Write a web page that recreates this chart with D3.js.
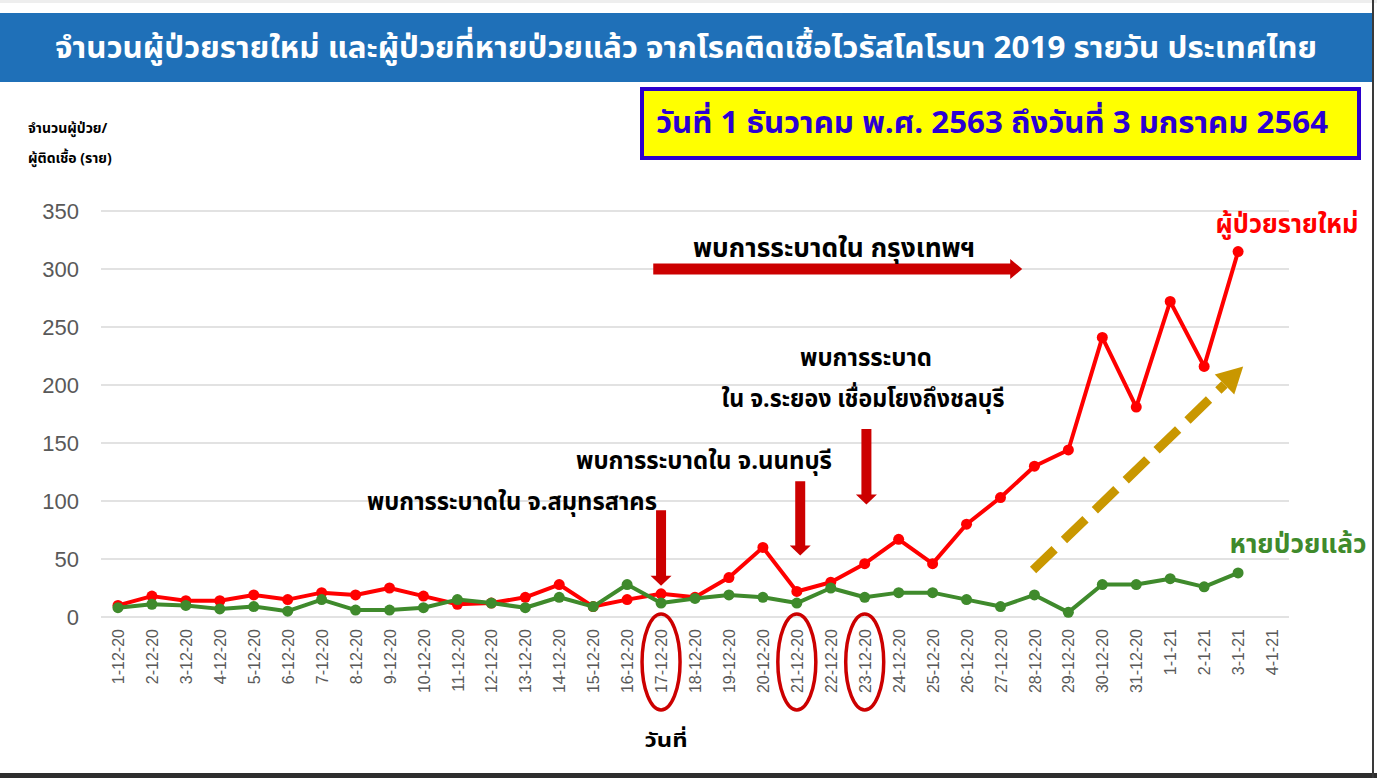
<!DOCTYPE html>
<html>
<head>
<meta charset="utf-8">
<script src="https://cdn.jsdelivr.net/npm/d3@7"></script>
<style>
  html, body { margin: 0; padding: 0; background: #fff; }
  svg { display: block; }
</style>
</head>
<body>
<svg id="chart" width="1377" height="778"></svg>
<script>

// DATA

var dates = [
	"1-12-20", "2-12-20", "3-12-20", "4-12-20", "5-12-20", "6-12-20", "7-12-20",
	"8-12-20", "9-12-20", "10-12-20", "11-12-20", "12-12-20", "13-12-20", "14-12-20",
	"15-12-20", "16-12-20", "17-12-20", "18-12-20", "19-12-20", "20-12-20", "21-12-20",
	"22-12-20", "23-12-20", "24-12-20", "25-12-20", "26-12-20", "27-12-20", "28-12-20",
	"29-12-20", "30-12-20", "31-12-20", "1-1-21", "2-1-21", "3-1-21", "4-1-21"
];

// ผู้ป่วยรายใหม่ (new cases)
var newCases = [10, 18, 14, 14, 19, 15, 21, 19, 25, 18, 11, 12, 17, 28, 9, 15, 20, 17,
	34, 60, 22, 30, 46, 67, 46, 80, 103, 130, 144, 241, 181, 272, 216, 315];

// หายป่วยแล้ว (recovered)
var recovered = [8, 11, 10, 7, 9, 5, 15, 6, 6, 8, 15, 12, 8, 17, 9, 28, 12, 16,
	19, 17, 12, 25, 17, 21, 21, 15, 9, 19, 4, 28, 28, 33, 26, 38];

var yTicks = [0, 50, 100, 150, 200, 250, 300, 350];

var circledDates = ["17-12-20", "21-12-20", "23-12-20"];

var title = "จำนวนผู้ป่วยรายใหม่ และผู้ป่วยที่หายป่วยแล้ว จากโรคติดเชื้อไวรัสโคโรนา 2019 รายวัน ประเทศไทย";
var subtitle = "วันที่ 1 ธันวาคม พ.ศ. 2563 ถึงวันที่ 3 มกราคม 2564";

var thaiFont = "'Noto Sans Thai', 'Noto Sans', 'DejaVu Sans', sans-serif";

//LAYOUT

var svg = d3.select("#chart");
var W = 1377, H = 778;

var plot = { left: 101, right: 1289, top: 211, bottom: 617 };

var xScale = d3.scalePoint()
	.domain(dates)
	.range([plot.left, plot.right])
	.padding(0.5);

var yScale = d3.scaleLinear()
	.domain([0, 350])
	.range([plot.bottom, plot.top]);

// fractional index along the date axis, used for annotations
function xAt(i) {
	return xScale(dates[0]) + i * xScale.step();
}

//FRAME

svg.append("rect").attr("x", 0).attr("y", 0).attr("width", W).attr("height", H).attr("fill", "#fff");
svg.append("rect").attr("x", 0).attr("y", 0).attr("width", W).attr("height", 3).attr("fill", "#eeeeee");
svg.append("rect").attr("x", 0).attr("y", 773).attr("width", W).attr("height", 5).attr("fill", "#2e2e2e");
svg.append("rect").attr("x", 1372).attr("y", 0).attr("width", 2).attr("height", H).attr("fill", "#3a3a3a");

// title bar
svg.append("rect")
	.attr("x", 0).attr("y", 13)
	.attr("width", 1372).attr("height", 69)
	.attr("fill", "#1f70b8");

svg.append("text")
	.attr("x", 686).attr("y", 58)
	.attr("text-anchor", "middle")
	.attr("fill", "#fff")
	.attr("font-family", thaiFont)
	.attr("font-weight", "bold")
	.attr("font-size", 30)
	.attr("textLength", 1262)
	.attr("lengthAdjust", "spacingAndGlyphs")
	.text(title);

// date range box
svg.append("rect")
	.attr("x", 642).attr("y", 89)
	.attr("width", 717).attr("height", 69)
	.attr("fill", "#ffff00")
	.attr("stroke", "#2b00cc")
	.attr("stroke-width", 4);

svg.append("text")
	.attr("x", 992).attr("y", 133)
	.attr("text-anchor", "middle")
	.attr("fill", "#2b00d4")
	.attr("font-family", thaiFont)
	.attr("font-weight", "bold")
	.attr("font-size", 30)
	.attr("textLength", 672)
	.attr("lengthAdjust", "spacingAndGlyphs")
	.text(subtitle);

// y axis title
var yTitle = svg.append("text")
	.attr("font-family", thaiFont)
	.attr("font-weight", "bold")
	.attr("font-size", 14)
	.attr("fill", "#000");
yTitle.append("tspan").attr("x", 28).attr("y", 133).text("จำนวนผู้ป่วย/");
yTitle.append("tspan").attr("x", 28).attr("y", 163).text("ผู้ติดเชื้อ (ราย)");

//AXES

var g = svg.append("g");

g.append("g")
	.attr("class", "grid")
	.selectAll("line")
	.data(yTicks)
	.enter()
	.append("line")
	.attr("x1", plot.left).attr("x2", plot.right)
	.attr("y1", d => yScale(d)).attr("y2", d => yScale(d))
	.attr("stroke", "#d9d9d9")
	.attr("stroke-width", 1.5);

var yAxis = d3.axisLeft()
	.scale(yScale)
	.tickValues(yTicks)
	.tickSize(0)
	.tickPadding(22);

g.append("g")
	.attr("class", "yAxis")
	.attr("transform", "translate(" + plot.left + ",0)")
	.call(yAxis)
	.call(a => a.select(".domain").remove())
	.selectAll("text")
	.attr("font-family", "'Liberation Sans', Arial, sans-serif")
	.attr("font-size", 22)
	.attr("fill", "#595959");

var xAxis = d3.axisBottom()
	.scale(xScale)
	.tickSize(0)
	.tickPadding(0);

g.append("g")
	.attr("class", "xAxis")
	.attr("transform", "translate(0," + plot.bottom + ")")
	.call(xAxis)
	.call(a => a.select(".domain").remove())
	.selectAll("text")
	.attr("font-family", "'Liberation Sans', Arial, sans-serif")
	.attr("font-size", 16)
	.attr("fill", "#595959")
	.attr("text-anchor", "end")
	.attr("dy", "0.35em")
	.attr("transform", "translate(0,12) rotate(-90)");

svg.append("text")
	.attr("x", 666).attr("y", 747)
	.attr("text-anchor", "middle")
	.attr("font-family", thaiFont)
	.attr("font-weight", "bold")
	.attr("font-size", 20)
	.attr("textLength", 43)
	.attr("lengthAdjust", "spacingAndGlyphs")
	.text("วันที่");

//CIRCLED DATES

svg.selectAll("ellipse.mark")
	.data(circledDates)
	.enter()
	.append("ellipse")
	.attr("class", "mark")
	.attr("cx", d => xScale(d))
	.attr("cy", 662)
	.attr("rx", 19)
	.attr("ry", 48)
	.attr("fill", "none")
	.attr("stroke", "#cc0000")
	.attr("stroke-width", 3.5);

//LINES

var line = d3.line()
	.x((d, i) => xScale(dates[i]))
	.y(d => yScale(d));

function drawSeries(values, color) {
	var s = svg.append("g");
	s.append("path")
		.datum(values)
		.attr("d", line)
		.attr("fill", "none")
		.attr("stroke", color)
		.attr("stroke-width", 4)
		.attr("stroke-linejoin", "round");
	s.selectAll("circle")
		.data(values)
		.enter()
		.append("circle")
		.attr("cx", (d, i) => xScale(dates[i]))
		.attr("cy", d => yScale(d))
		.attr("r", 5.5)
		.attr("fill", color);
}

drawSeries(newCases, "#ff0000");
drawSeries(recovered, "#3f8a2c");

//ANNOTATIONS

// horizontal arrow, Bangkok
function hArrow(x1, x2, y, color) {
	var t = 11, hw = 20, hl = 12;
	var p = [[x1, y - t / 2], [x2 - hl, y - t / 2], [x2 - hl, y - hw / 2], [x2, y],
		[x2 - hl, y + hw / 2], [x2 - hl, y + t / 2], [x1, y + t / 2]];
	svg.append("path").attr("d", d3.line()(p) + "Z").attr("fill", color);
}

// down arrow
function vArrow(x, y1, y2, color) {
	var t = 10, hw = 21, hl = 10;
	var p = [[x - t / 2, y1], [x + t / 2, y1], [x + t / 2, y2 - hl], [x + hw / 2, y2 - hl], [x, y2],
		[x - hw / 2, y2 - hl], [x - t / 2, y2 - hl]];
	svg.append("path").attr("d", d3.line()(p) + "Z").attr("fill", color);
}

hArrow(xAt(15.77), xAt(26.64), yScale(300), "#cc0000");
vArrow(xAt(16), yScale(92), yScale(27), "#cc0000");
vArrow(xAt(20.1), yScale(117), yScale(53), "#cc0000");
vArrow(xAt(22.05), yScale(162), yScale(97), "#cc0000");

function anno(x, y, txt, size, len, color) {
	svg.append("text")
		.attr("x", x).attr("y", y)
		.attr("text-anchor", "middle")
		.attr("font-family", thaiFont)
		.attr("font-weight", "bold")
		.attr("font-size", size)
		.attr("fill", color || "#000")
		.attr("textLength", len)
		.attr("lengthAdjust", "spacingAndGlyphs")
		.text(txt);
}

anno(834, 257, "พบการระบาดใน กรุงเทพฯ", 26, 282);
anno(866, 366, "พบการระบาด", 24, 132);
anno(863, 407, "ใน จ.ระยอง เชื่อมโยงถึงชลบุรี", 24, 283);
anno(704, 469, "พบการระบาดใน จ.นนทบุรี", 24, 256);
anno(512, 510, "พบการระบาดใน จ.สมุทรสาคร", 24, 290);

anno(1287, 233, "ผู้ป่วยรายใหม่", 26, 143, "#ff0000");
anno(1298, 553, "หายป่วยแล้ว", 26, 137, "#3f8a2c");

// dashed trend arrow
var gx1 = xAt(26.96), gy1 = yScale(40.5), gx2 = xAt(33.15), gy2 = yScale(216);
var ang = Math.atan2(gy2 - gy1, gx2 - gx1);
var headL = 26, headW = 28;
var bx = gx2 - headL * Math.cos(ang), by = gy2 - headL * Math.sin(ang);

svg.append("line")
	.attr("x1", gx1).attr("y1", gy1)
	.attr("x2", bx).attr("y2", by)
	.attr("stroke", "#c99700")
	.attr("stroke-width", 9)
	.attr("stroke-dasharray", "30,13");

var nx = -Math.sin(ang), ny = Math.cos(ang);
svg.append("path")
	.attr("d", d3.line()([[gx2, gy2], [bx + nx * headW / 2, by + ny * headW / 2], [bx - nx * headW / 2, by - ny * headW / 2]]) + "Z")
	.attr("fill", "#c99700");

</script>
</body>
</html>
